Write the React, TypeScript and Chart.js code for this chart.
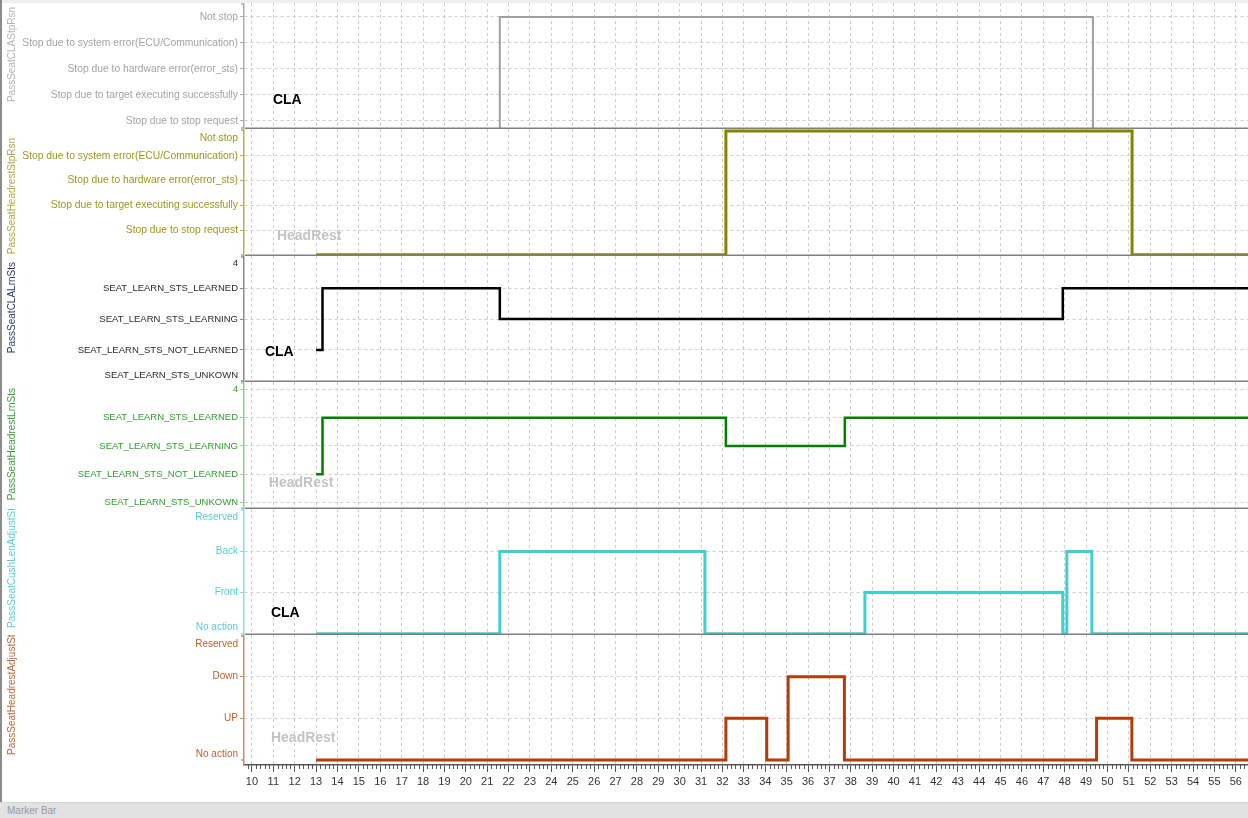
import React, { useEffect, useRef } from "react";
import { Chart, registerables } from "chart.js";

Chart.register(...registerables);

const FONT = '"Liberation Sans", Arial, sans-serif';

// ---- shared x axis ----
const X_MIN = 9.63;
const X_MAX = 56.57;
const X_TICKS = [10, 11, 12, 13, 14, 15, 16, 17, 18, 19, 20, 21, 22, 23, 24, 25, 26, 27, 28, 29, 30, 31, 32, 33, 34, 35, 36, 37, 38, 39, 40, 41, 42, 43, 44, 45, 46, 47, 48, 49, 50, 51, 52, 53, 54, 55, 56];

// ---- category tick labels ----
const STP_LABELS = [
  "Stop due to stop request",
  "Stop due to target executing successfully",
  "Stop due to hardware error(error_sts)",
  "Stop due to system error(ECU/Communication)",
  "Not stop",
];
const LRN_LABELS = [
  "SEAT_LEARN_STS_UNKOWN",
  "SEAT_LEARN_STS_NOT_LEARNED",
  "SEAT_LEARN_STS_LEARNING",
  "SEAT_LEARN_STS_LEARNED",
  "4",
];
const CUSH_LABELS = ["No action", "Front", "Back", "Reserved"];
const HEAD_ADJ_LABELS = ["No action", "UP", "Down", "Reserved"];

// tick value positions for each panel (clamped edge labels sit slightly inside)
const P1_TICKS = [0, 1, 2, 3, 4];
const P1_MARKS = [true, true, true, true, true];
const P2_TICKS = [0, 1, 2, 3, 3.72];
const P2_MARKS = [true, true, true, true, false];
const P3_TICKS = [0.185, 1, 2, 3, 3.82];
const P3_MARKS = [false, true, true, true, false];
const P4_TICKS = [0, 1, 2, 3, 4];
const P4_MARKS = [true, true, true, true, true];
const P5_TICKS = [0.165, 1, 2, 2.836];
const P5_MARKS = [false, true, true, false];
const P6_TICKS = [0.145, 1, 2, 2.784];
const P6_MARKS = [false, true, true, false];

// ---- signal series (time, value) ----
const claStpTimes = [13, 21.59, 49.32, 56.6];
const claStpValues = [-1, 4, -1, -1];

const headStpTimes = [13, 32.16, 51.15, 56.6];
const headStpValues = [-1, 4, -1, -1];

const claLrnTimes = [13, 13.3, 21.59, 47.91, 56.6];
const claLrnValues = [1, 3, 2, 3, 3];

const headLrnTimes = [13, 13.3, 32.16, 37.72, 56.6];
const headLrnValues = [1, 3, 2, 3, 3];

const cushTimes = [13, 21.59, 31.18, 38.66, 47.91, 48.1, 49.27, 56.6];
const cushValues = [0, 2, 0, 1, 0, 2, 0, 0];

const headAdjTimes = [13, 32.16, 34.07, 35.07, 37.7, 49.49, 51.14, 56.6];
const headAdjValues = [0, 1, 0, 2, 0, 1, 0, 0];

// ---- panel layout / styles ----
type Panel = {
  top: number; height: number; xHeight: number;
  yMin: number; yMax: number;
  ticks: number[]; marks: boolean[]; labels: string[];
  times: number[]; values: number[];
  labelColor: string; labelSize: number; axisColor: string;
  lineColor: string; lineWidth: number;
  title: string; titleColor: string; titleAlign: "left" | "right"; titleY: number;
  note: string; noteColor: string; noteX: number; noteY: number;
  bottom: boolean;
};

const PANELS: Panel[] = [
  {
    top: 3, height: 126, xHeight: 0, yMin: -0.308, yMax: 4.538,
    ticks: P1_TICKS, marks: P1_MARKS, labels: STP_LABELS,
    times: claStpTimes, values: claStpValues,
    labelColor: "#a3a3a3", labelSize: 10.3, axisColor: "#ababab",
    lineColor: "#a0a0a0", lineWidth: 2,
    title: "PassSeatCLAStpRsn", titleColor: "#b3b3b3", titleAlign: "right", titleY: 4,
    note: "CLA", noteColor: "#000000", noteX: 10.98, noteY: 0.81, bottom: false,
  },
  {
    top: 129, height: 127, xHeight: 0, yMin: -1.05, yMax: 4.08,
    ticks: P2_TICKS, marks: P2_MARKS, labels: STP_LABELS,
    times: headStpTimes, values: headStpValues,
    labelColor: "#9c961c", labelSize: 10.3, axisColor: "#b8b050",
    lineColor: "#858500", lineWidth: 3,
    title: "PassSeatHeadrestStpRsn", titleColor: "#b0a840", titleAlign: "right", titleY: 9,
    note: "HeadRest", noteColor: "#c3c3c3", noteX: 11.17, noteY: -0.24, bottom: false,
  },
  {
    top: 256, height: 126, xHeight: 0, yMin: -0.042, yMax: 4.05,
    ticks: P3_TICKS, marks: P3_MARKS, labels: LRN_LABELS,
    times: claLrnTimes, values: claLrnValues,
    labelColor: "#2a2a2a", labelSize: 9.5, axisColor: "#8a8a8a",
    lineColor: "#000000", lineWidth: 2.5,
    title: "PassSeatCLALrnSts", titleColor: "#2c3a66", titleAlign: "right", titleY: 6,
    note: "CLA", noteColor: "#000000", noteX: 10.61, noteY: 0.93, bottom: false,
  },
  {
    top: 382, height: 127, xHeight: 0, yMin: -0.226, yMax: 4.26,
    ticks: P4_TICKS, marks: P4_MARKS, labels: LRN_LABELS,
    times: headLrnTimes, values: headLrnValues,
    labelColor: "#2e9e2e", labelSize: 9.5, axisColor: "#8fd08f",
    lineColor: "#008000", lineWidth: 2.5,
    title: "PassSeatHeadrestLrnSts", titleColor: "#3aa03a", titleAlign: "right", titleY: 6,
    note: "HeadRest", noteColor: "#c3c3c3", noteX: 10.79, noteY: 0.69, bottom: false,
  },
  {
    top: 509, height: 126, xHeight: 0, yMin: -0.03, yMax: 3.03,
    ticks: P5_TICKS, marks: P5_MARKS, labels: CUSH_LABELS,
    times: cushTimes, values: cushValues,
    labelColor: "#4fd0d8", labelSize: 10, axisColor: "#7fe0e0",
    lineColor: "#3ecfcf", lineWidth: 3,
    title: "PassSeatCushLenAdjustSts", titleColor: "#55d0d8", titleAlign: "left", titleY: 119,
    note: "CLA", noteColor: "#000000", noteX: 10.89, noteY: 0.505, bottom: false,
  },
  {
    top: 635, height: 168, xHeight: 38, yMin: -0.119, yMax: 3.0,
    ticks: P6_TICKS, marks: P6_MARKS, labels: HEAD_ADJ_LABELS,
    times: headAdjTimes, values: headAdjValues,
    labelColor: "#c0602e", labelSize: 10, axisColor: "#d08a66",
    lineColor: "#b23c0a", lineWidth: 3,
    title: "PassSeatHeadrestAdjustSts", titleColor: "#c0643a", titleAlign: "left", titleY: 120,
    note: "HeadRest", noteColor: "#c3c3c3", noteX: 10.89, noteY: 0.53, bottom: true,
  },
];

const decoPlugin = {
  id: "panelDeco",
  afterDraw(chart: any, _args: any, opts: any) {
    const p: Panel = opts.panel;
    const { ctx, chartArea: a, scales } = chart;
    // rotated signal title
    ctx.save();
    ctx.font = `10px ${FONT}`;
    ctx.fillStyle = p.titleColor;
    ctx.textBaseline = "middle";
    ctx.textAlign = p.titleAlign;
    ctx.translate(12, p.titleY);
    ctx.rotate(-Math.PI / 2);
    ctx.fillText(p.title, 0, 0);
    ctx.restore();

    // annotation text
    ctx.save();
    ctx.font = `bold 14px ${FONT}`;
    ctx.fillStyle = p.noteColor;
    ctx.textAlign = "left";
    ctx.textBaseline = "middle";
    ctx.fillText(p.note, scales.x.getPixelForValue(p.noteX), scales.y.getPixelForValue(p.noteY));
    ctx.restore();

    ctx.save();
    // axis bracket caps
    ctx.strokeStyle = p.axisColor;
    ctx.lineWidth = 1.5;
    ctx.beginPath();
    ctx.moveTo(a.left - 3, a.top + 1);
    ctx.lineTo(a.left, a.top + 1);
    ctx.moveTo(a.left - 3, a.bottom - (p.bottom ? 5 : 1));
    ctx.lineTo(a.left, a.bottom - (p.bottom ? 5 : 1));
    ctx.stroke();
    // panel separator
    if (!p.bottom) {
      ctx.strokeStyle = "#7f7f7f";
      ctx.lineWidth = 1.5;
      ctx.beginPath();
      ctx.moveTo(a.left + 1, a.bottom - 0.75);
      ctx.lineTo(a.right, a.bottom - 0.75);
      ctx.stroke();
    } else {
      // minor ticks on the time axis
      ctx.strokeStyle = "#555555";
      ctx.lineWidth = 1;
      ctx.beginPath();
      const xs = scales.x;
      for (let k = Math.ceil(X_MIN * 5); k <= Math.floor(X_MAX * 5); k++) {
        if (k % 5 === 0) continue;
        const px = Math.round(xs.getPixelForValue(k / 5)) + 0.5;
        ctx.moveTo(px, a.bottom);
        ctx.lineTo(px, a.bottom + 4);
      }
      ctx.stroke();
    }
    ctx.restore();
  },
};

function makeChart(canvas: HTMLCanvasElement, p: Panel) {
  const data = p.times.map((t, i) => ({ x: t, y: p.values[i] }));
  return new Chart(canvas, {
    type: "line",
    data: {
      datasets: [
        {
          data,
          stepped: "before",
          borderColor: p.lineColor,
          borderWidth: p.lineWidth,
          pointRadius: 0,
          fill: false,
          tension: 0,
        } as any,
      ],
    },
    options: {
      animation: false,
      responsive: false,
      devicePixelRatio: 1,
      layout: { padding: 0 },
      events: [],
      plugins: {
        legend: { display: false },
        tooltip: { enabled: false },
        panelDeco: { panel: p },
      } as any,
      scales: {
        x: {
          type: "linear",
          min: X_MIN,
          max: X_MAX,
          afterBuildTicks: (s: any) => {
            s.ticks = X_TICKS.map((v) => ({ value: v }));
          },
          afterFit: (s: any) => {
            s.height = p.xHeight;
            s.paddingLeft = 0;
            s.paddingRight = 0;
            s.paddingTop = 0;
            s.paddingBottom = 0;
          },
          grid: {
            color: "#cdcdcd",
            lineWidth: 1,
            drawTicks: p.bottom,
            tickLength: 7,
            tickColor: "#555555",
          },
          border: { display: p.bottom, color: "#555555", width: 1.5, dash: [3, 3] },
          ticks: {
            display: p.bottom,
            color: "#333333",
            font: { family: FONT, size: 11 },
            padding: 3,
            maxRotation: 0,
            autoSkip: false,
            callback: (v: any) => String(v),
          },
        },
        y: {
          type: "linear",
          min: p.yMin,
          max: p.yMax,
          afterBuildTicks: (s: any) => {
            s.ticks = p.ticks.map((v) => ({ value: v }));
          },
          afterFit: (s: any) => {
            s.width = 244;
            s.paddingTop = 0;
            s.paddingBottom = 0;
            s.paddingLeft = 0;
            s.paddingRight = 0;
          },
          ticks: {
            autoSkip: false,
            color: p.labelColor,
            font: { family: FONT, size: p.labelSize },
            padding: 2,
            callback: (_v: any, i: number) => p.labels[i],
          },
          grid: {
            color: (c: any) => (p.marks[c.index] ? "#cdcdcd" : "rgba(0,0,0,0)"),
            tickColor: (c: any) => (p.marks[c.index] ? p.axisColor : "rgba(0,0,0,0)"),
            tickLength: 4,
            lineWidth: 1,
          },
          border: { display: true, color: p.axisColor, width: 1.5, dash: [3, 3] },
        },
      },
    } as any,
    plugins: [decoPlugin],
  });
}

export default function App() {
  const refs = useRef<(HTMLCanvasElement | null)[]>([]);
  useEffect(() => {
    const charts = PANELS.map((p, i) => makeChart(refs.current[i] as HTMLCanvasElement, p));
    return () => charts.forEach((c) => c.destroy());
  }, []);
  return (
    <div
      style={{
        position: "fixed",
        left: 0,
        top: 0,
        width: 1248,
        height: 818,
        background: "#ffffff",
        overflow: "hidden",
        fontFamily: FONT,
      }}
    >
      <div style={{ position: "absolute", left: 0, top: 0, width: 1248, height: 3, background: "#efefef" }} />
      {PANELS.map((p, i) => (
        <canvas
          key={i}
          ref={(el) => {
            refs.current[i] = el;
          }}
          width={1248}
          height={p.height}
          style={{ position: "absolute", left: 0, top: p.top, width: 1248, height: p.height, display: "block" }}
        />
      ))}
      <div style={{ position: "absolute", left: 0, top: 0, width: 2, height: 803, background: "#8c8c8c" }} />
      <div
        style={{
          position: "absolute",
          left: 0,
          top: 802,
          width: 1248,
          height: 16,
          background: "#e2e2e2",
          borderTop: "1px solid #d4d4d4",
          boxSizing: "border-box",
          color: "#9a9a9a",
          fontSize: 10,
          lineHeight: "16px",
          paddingLeft: 7,
        }}
      >
        Marker Bar
      </div>
    </div>
  );
}
